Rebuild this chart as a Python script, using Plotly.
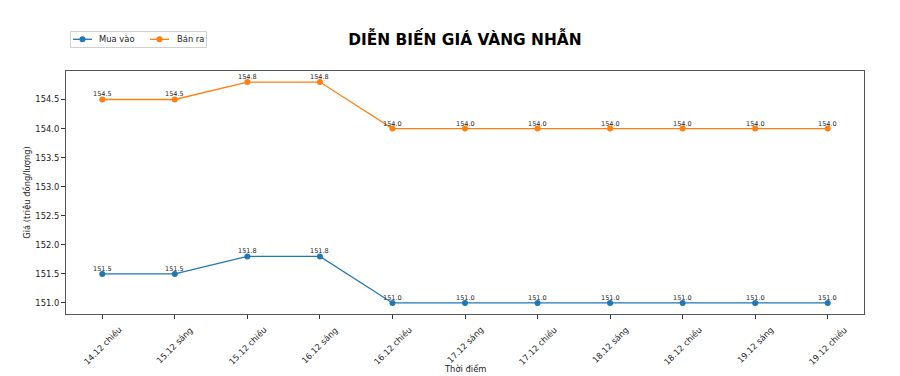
import plotly.graph_objects as go

categories = ["14.12 chiều", "15.12 sáng", "15.12 chiều", "16.12 sáng", "16.12 chiều",
              "17.12 sáng", "17.12 chiều", "18.12 sáng", "18.12 chiều", "19.12 sáng", "19.12 chiều"]
mua_vao = [151.5, 151.5, 151.8, 151.8, 151.0, 151.0, 151.0, 151.0, 151.0, 151.0, 151.0]
ban_ra = [154.5, 154.5, 154.8, 154.8, 154.0, 154.0, 154.0, 154.0, 154.0, 154.0, 154.0]
y_ticks = [151.0, 151.5, 152.0, 152.5, 153.0, 153.5, 154.0, 154.5]
series_names = ["Mua vào", "Bán ra"]
series_colors = ["#1f77b4", "#ff7f0e"]

FONT = "DejaVu Sans"
W, H = 900, 376
ML, MR, MT, MB = 66, 36, 71, 62
PW, PH = W - ML - MR, H - MT - MB


def px_x(px):
    return (px - ML) / PW


def px_y(py):
    return (H - MB - py) / PH


x_idx = list(range(len(categories)))

fig = go.Figure()
annotations = []
for name, vals, color in zip(series_names, [mua_vao, ban_ra], series_colors):
    fig.add_trace(go.Scatter(
        x=x_idx, y=vals, name=name, mode="lines+markers",
        line=dict(color=color, width=1.3),
        marker=dict(color=color, size=6),
        showlegend=False,
    ))
    for i, v in enumerate(vals):
        annotations.append(dict(
            x=i, y=v, xref="x", yref="y", text=f"{v:.1f}", showarrow=False,
            xanchor="center", yanchor="bottom", yshift=-1,
            font=dict(family=FONT, size=6.5, color="#222"),
        ))

for i, c in enumerate(categories):
    annotations.append(dict(
        x=i, y=0, xref="x", yref="paper", text=c, showarrow=False,
        textangle=-45, xanchor="center", yanchor="top", yshift=-8,
        font=dict(family=FONT, size=8.4, color="#222"),
    ))

# x-axis title
annotations.append(dict(
    x=0.5, y=px_y(369), xref="paper", yref="paper", text="Thời điểm", showarrow=False,
    xanchor="center", yanchor="middle", font=dict(family=FONT, size=8.4, color="#222"),
))

# legend (drawn manually to match the compact box)
shapes = [dict(type="rect", xref="paper", yref="paper",
               x0=px_x(70.5), x1=px_x(206.5), y0=px_y(31.5), y1=px_y(47.5),
               line=dict(color="#d0d0d0", width=1), fillcolor="white", layer="above")]
leg_items = [(73, 92, 82.5, 97), (150, 169, 159.5, 175)]
leg_y = 39.3
for (lx0, lx1, mx, tx), name, color in zip(leg_items, series_names, series_colors):
    shapes.append(dict(type="line", xref="paper", yref="paper",
                       x0=px_x(lx0), x1=px_x(lx1), y0=px_y(leg_y), y1=px_y(leg_y),
                       line=dict(color=color, width=1.3), layer="above"))
    shapes.append(dict(type="circle", xref="paper", yref="paper",
                       x0=px_x(mx - 3), x1=px_x(mx + 3), y0=px_y(leg_y - 3), y1=px_y(leg_y + 3),
                       line=dict(color=color, width=0), fillcolor=color, layer="above"))
    annotations.append(dict(x=px_x(tx), y=px_y(leg_y), xref="paper", yref="paper",
                            text=name, showarrow=False, xanchor="left", yanchor="middle",
                            font=dict(family=FONT, size=8.4, color="#222")))

fig.update_layout(
    width=W, height=H,
    margin=dict(l=ML, r=MR, t=MT, b=MB, autoexpand=False),
    paper_bgcolor="white", plot_bgcolor="white",
    font=dict(family=FONT, size=8.4, color="#222"),
    title=dict(text="<b>DIỄN BIẾN GIÁ VÀNG NHẪN</b>", x=px_x(465), xref="paper", xanchor="center",
               y=1 - 40 / H, yanchor="middle", font=dict(family=FONT, size=15.4, color="black")),
    showlegend=False,
    annotations=annotations,
    shapes=shapes,
)
fig.update_xaxes(
    range=[-0.5, len(categories) - 0.5], tickmode="array", tickvals=x_idx,
    showticklabels=False, ticks="outside", ticklen=4, tickcolor="#333",
    showline=True, linecolor="#555", linewidth=1, mirror=True, showgrid=False, zeroline=False,
)
fig.update_yaxes(
    range=[150.81, 154.99], tickmode="array", tickvals=y_ticks,
    ticktext=[f"{v:.1f}" for v in y_ticks],
    ticks="outside", ticklen=4, tickcolor="#333",
    showline=True, linecolor="#555", linewidth=1, mirror=True, showgrid=False, zeroline=False,
    title=dict(text="Giá (triệu đồng/lượng)", standoff=3, font=dict(family=FONT, size=8.4)),
)
fig.write_html("out.html", config={"displayModeBar": False},
               post_script="document.body.style.margin='0';")
